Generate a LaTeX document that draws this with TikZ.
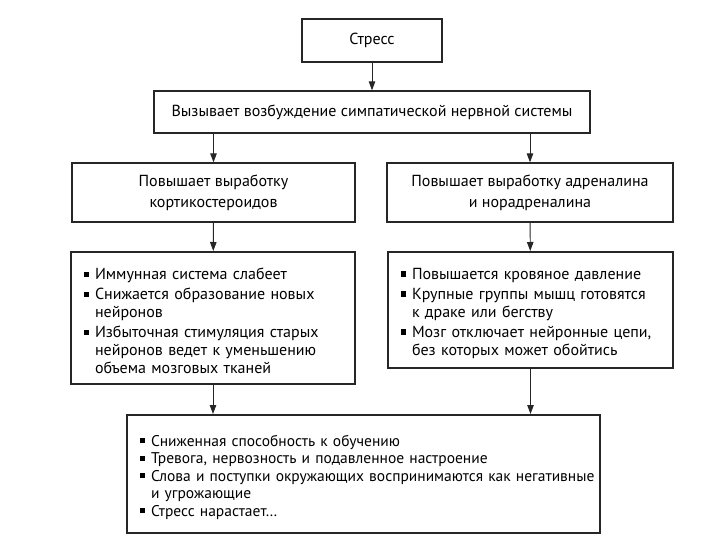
\documentclass[tikz,border=0pt]{standalone}
\usepackage{fontspec}
\setmainfont{PT Sans}
\usetikzlibrary{arrows.meta,calc}
\newcommand\bul{\par\hangindent=11pt\hangafter=1\noindent\makebox[11pt][l]{\rule[0.18em]{0.32em}{0.32em}}}
\newcommand\nl{\nobreak\hfil\break}
\tikzset{
  box/.style={draw=black!85, line width=1.3pt, inner sep=0pt, align=center,
    font=\fontsize{16}{21}\selectfont},
  listbox/.style={draw=black!85, line width=2pt, inner xsep=13pt, inner ysep=0pt,
    align=left, font=\fontsize{16}{18}\selectfont},
  arr/.style={draw=black!85, line width=0.9pt, -{Triangle[length=9pt,width=6.5pt]}},
}
\begin{document}
\begin{tikzpicture}[x=1pt,y=-1pt]
\useasboundingbox (0,0) rectangle (720,540);
\node[box, minimum width=140pt, minimum height=43pt] (b1) at (372,40.5) {Стресс};
\node[box, minimum width=436pt, minimum height=42pt] (b2) at (372,112) {Вызывает возбуждение симпатической нервной системы};
\node[box, minimum width=283pt, minimum height=59pt] (b3l) at (213.5,192.5) {Повышает выработку\\кортикостероидов};
\node[box, minimum width=286pt, minimum height=59pt] (b3r) at (530,192.5) {Повышает выработку адреналина\\и норадреналина};
\node[listbox, text width=258pt, minimum height=132pt] (b4l) at (213,318) {%
\bul Иммунная система слабеет\vspace{2pt}
\bul Снижается образование новых\nl нейронов\vspace{2pt}
\bul Избыточная стимуляция старых\nl нейронов ведет к уменьшению\nl объема мозговых тканей\par};
\node[listbox, text width=259pt, minimum height=116pt] (b4r) at (530.5,310) {%
\bul Повышается кровяное давление\vspace{2pt}
\bul Крупные группы мышц готовятся\nl к драке или бегству\vspace{2pt}
\bul Мозг отключает нейронные цепи,\nl без которых может обойтись\par};
\node[listbox, font=\fontsize{15.5}{17.5}\selectfont, text width=447pt, minimum height=118pt] (b5) at (363.5,474) {%
\bul Сниженная способность к обучению
\bul Тревога, нервозность и подавленное настроение
\bul \mbox{Слова и поступки окружающих воспринимаются как негативные}\nl и угрожающие
\bul Стресс нарастает…\vspace{3pt}\par};
\draw[arr] (b1) -- (b2);
\draw[arr] (b2.south -| b3l.north) -- (b3l.north);
\draw[arr] (b2.south -| b3r.north) -- (b3r.north);
\draw[arr] (b3l) -- (b4l);
\draw[arr] (b3r) -- (b4r);
\draw[arr] (b4l.south) -- (b4l.south |- b5.north);
\draw[arr] (b4r.south) -- (b4r.south |- b5.north);
\end{tikzpicture}
\end{document}
